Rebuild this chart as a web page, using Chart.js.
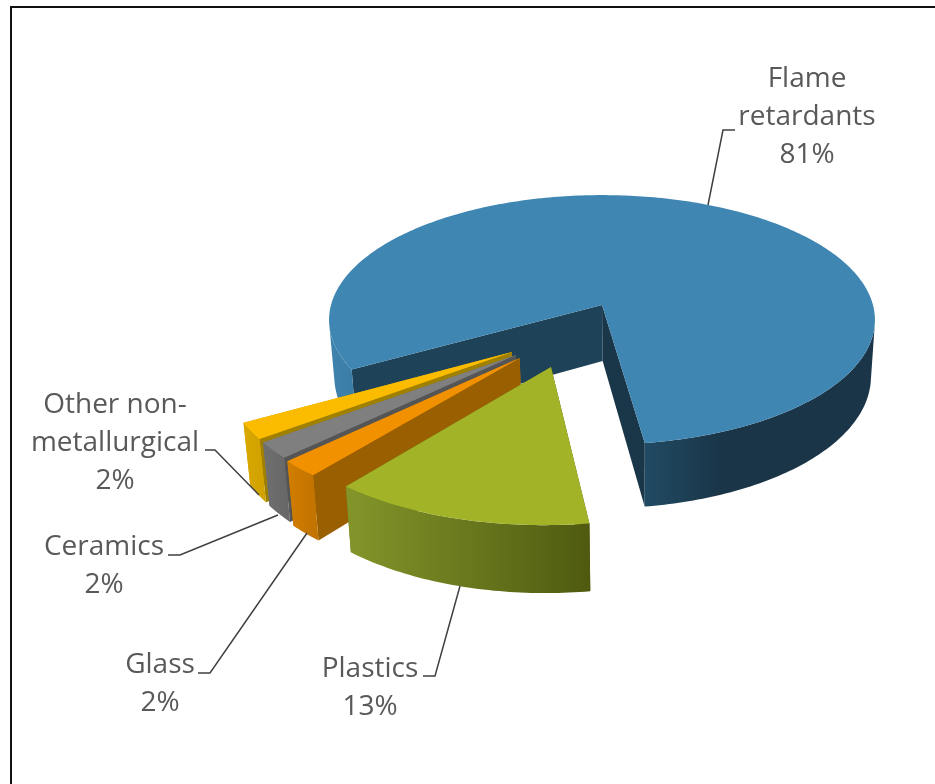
<!DOCTYPE html>
<html lang="en">

<head>
    <meta charset="utf-8">
    <title>Uses of antimony</title>
    <script src="https://cdn.jsdelivr.net/npm/chart.js@4/dist/chart.umd.min.js"></script>
    <style>
    html, body { margin: 0; padding: 0; background: #fff; }
    canvas { display: block; }
    </style>
</head>

<body>
    <canvas id="pie" width="935" height="784"></canvas>
    <script>
    var categories = ["Flame retardants", "Plastics", "Glass", "Ceramics", "Other non-metallurgical"];
    var shares = [81, 13, 2, 2, 2];

    // colours: top face, cut wall at the start edge, cut wall at the end edge
    var topColors = ["#3f86b3", "#a2b327", "#f29100", "#7f7f7f", "#fbbc00"];
    var startWalls = ["#1e4358", "#4f5a10", "#9a5f00", "#555555", "#a08000"];
    var endWalls = ["#1a3749", "#6a7a1c", "#cc7a00", "#6f6f6f", "#d6a400"];
    // outer wall gradient, [x, colour] across the screen
    var outerWalls = [
        [[329, "#3f84af"], [355, "#3a7ca4"], [400, "#2f6584"], [645, "#204b63"], [720, "#1a3548"], [875, "#1a3548"]],
        [[344, "#84962a"], [590, "#4f5a10"]],
        [[287, "#d27e00"], [320, "#bf7200"]],
        [[263, "#707070"], [290, "#666666"]],
        [[244, "#d9a800"], [267, "#cfa000"]]
    ];

    // how far each slice is pulled out, in pie radii on the ground plane
    var pullX = [0, -0.1775, -0.289, -0.303, -0.318];
    var pullY = [0, 0.4756, 0.409, 0.387, 0.366];
    var drawOrder = [0, 4, 3, 2, 1];

    // camera: ground plane to screen
    var view = { cx: 602, cy: 305, rx: 271, ry: 123, persp: 0.119, depth: 56, vanishX: 640, shrink: 0.983 };

    var labels = [
        { lines: ["Flame", "retardants"], x: 807, y: 87, leader: [[708, 205], [723, 130], [735, 130]] },
        { lines: ["Plastics"], x: 370, y: 677, leader: [[460, 586], [435, 676], [423, 676]] },
        { lines: ["Glass"], x: 160, y: 673, leader: [[307, 533], [210, 673], [198, 673]] },
        { lines: ["Ceramics"], x: 104, y: 555, leader: [[278, 515], [180, 555], [168, 555]] },
        { lines: ["Other non-", "metallurgical"], x: 115, y: 413, leader: [[259, 495], [215, 450], [205, 450]] }
    ];

    function project(X, Y) {
        var s = 1 / (1 - view.persp * Y);
        return { x: view.cx + X * view.rx * s, y: view.cy + Y * view.ry * s, s: s };
    }

    function drop(p) {
        return { x: view.vanishX + (p.x - view.vanishX) * view.shrink, y: p.y + view.depth * p.s };
    }

    function fillPoly(ctx, pts, fill) {
        ctx.beginPath();
        pts.forEach(function(p, i) {
            if (i == 0) ctx.moveTo(p.x, p.y);
            else ctx.lineTo(p.x, p.y);
        });
        ctx.closePath();
        ctx.fillStyle = fill;
        ctx.fill();
    }

    function rimPoints(arc, i) {
        var a = arc.startAngle, b = arc.endAngle;
        var n = Math.max(8, Math.round((b - a) * 60));
        var pts = [];
        for (var k = 0; k <= n; k++) {
            var t = a + (b - a) * k / n;
            pts.push(project(pullX[i] + Math.cos(t), pullY[i] + Math.sin(t)));
        }
        return pts;
    }

    function wall(ctx, p, q, fill) {
        fillPoly(ctx, [p, q, drop(q), drop(p)], fill);
    }

    function facesViewer(a, b) {
        var d = drop(a);
        return (b.x - a.x) * (d.y - a.y) - (b.y - a.y) * (d.x - a.x) < 0;
    }

    function outerWall(ctx, rim, i) {
        var stops = outerWalls[i];
        var x0 = stops[0][0], x1 = stops[stops.length - 1][0];
        var grad = ctx.createLinearGradient(x0, 0, x1, 0);
        stops.forEach(function(stop) {
            grad.addColorStop((stop[0] - x0) / (x1 - x0), stop[1]);
        });
        // runs of rim steps that face the viewer, each one a single strip
        var run = [];
        function flush() {
            if (run.length > 1) fillPoly(ctx, run.concat(run.slice().reverse().map(drop)), grad);
            run = [];
        }
        for (var k = 0; k < rim.length - 1; k++) {
            if (facesViewer(rim[k], rim[k + 1])) {
                if (run.length == 0) run.push(rim[k]);
                run.push(rim[k + 1]);
            } else {
                flush();
            }
        }
        flush();
    }

    var pie3d = {
        id: 'pie3d',
        beforeDatasetsDraw: function(chart) {
            var ctx = chart.ctx;
            var arcs = chart.getDatasetMeta(0).data;
            ctx.save();
            drawOrder.forEach(function(i) {
                var rim = rimPoints(arcs[i], i);
                var apex = project(pullX[i], pullY[i]);
                wall(ctx, apex, rim[rim.length - 1], endWalls[i]);
                wall(ctx, apex, rim[0], startWalls[i]);
                outerWall(ctx, rim, i);
                fillPoly(ctx, [apex].concat(rim), topColors[i]);
            });
            ctx.restore();
            return false;
        },
        afterDraw: function(chart) {
            var ctx = chart.ctx;
            ctx.save();
            // frame of the original screenshot
            ctx.fillStyle = "#111111";
            ctx.fillRect(10, 6, 925, 2);
            ctx.fillRect(10, 6, 2, 778);
            // leader lines
            ctx.strokeStyle = "#404040";
            ctx.lineWidth = 1.5;
            labels.forEach(function(l) {
                ctx.beginPath();
                l.leader.forEach(function(p, i) {
                    if (i == 0) ctx.moveTo(p[0], p[1]);
                    else ctx.lineTo(p[0], p[1]);
                });
                ctx.stroke();
            });
            // labels
            ctx.font = "28px 'Open Sans'";
            ctx.fillStyle = "#595959";
            ctx.textAlign = "center";
            ctx.textBaseline = "alphabetic";
            labels.forEach(function(l, i) {
                var lines = l.lines.concat([shares[i] + "%"]);
                lines.forEach(function(txt, k) {
                    ctx.fillText(txt, l.x, l.y + k * 38);
                });
            });
            ctx.restore();
        }
    };

    var chart = new Chart(document.getElementById('pie'), {
        type: 'pie',
        data: {
            labels: categories,
            datasets: [{ data: shares, backgroundColor: topColors, borderWidth: 0 }]
        },
        options: {
            responsive: false,
            animation: false,
            rotation: 240.4,
            plugins: { legend: { display: false }, tooltip: { enabled: false } }
        },
        plugins: [pie3d]
    });
    </script>
</body>

</html>
